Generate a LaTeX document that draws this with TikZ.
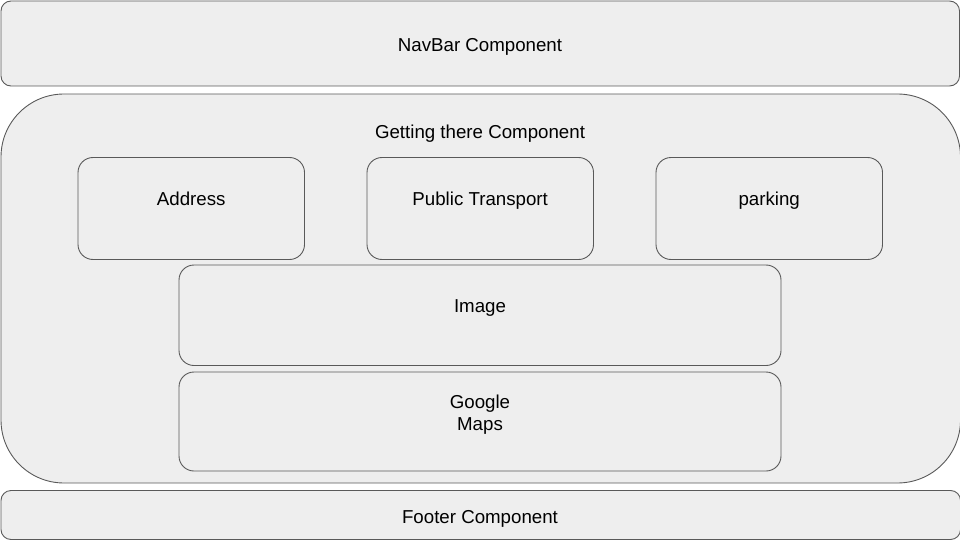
\documentclass[tikz,border=0pt]{standalone}
\usepackage{fontspec}
\setmainfont{Liberation Sans}
\definecolor{boxfill}{HTML}{EEEEEE}
\definecolor{boxline}{HTML}{595959}
\begin{document}
\begin{tikzpicture}[x=1pt,y=-1pt,
  comp/.style={draw=boxline,fill=boxfill,line width=0.9pt},
  lbl/.style={font=\fontsize{18.7}{22}\selectfont,align=center,text=black,inner sep=0pt,anchor=base}]
\useasboundingbox (0,0) rectangle (960,540);
% NavBar
\draw[comp,rounded corners=10] (1,1) rectangle (959.5,86);
\node[lbl] (nav) at (480,51.5) {NavBar Component};
% Getting there
\draw[comp,rounded corners=63] (1,94) rectangle (960.5,483);
\node[lbl] (gt) at (480,139) {Getting there Component};
% Row of boxes
\draw[comp,rounded corners=15] (78,157.5) rectangle (304.5,259.5);
\node[lbl] (addr) at (191.2,205) {Address};
\draw[comp,rounded corners=15] (367,157.5) rectangle (593.5,259.5);
\node[lbl] (pt) at (480.2,205) {Public Transport};
\draw[comp,rounded corners=15] (656,157.5) rectangle (882.5,259.5);
\node[lbl] (park) at (769.2,205) {parking};
% Image
\draw[comp,rounded corners=15] (179,265) rectangle (781,365.5);
\node[lbl] (img) at (480,312) {Image};
% Google Maps
\draw[comp,rounded corners=15] (179,372) rectangle (781,471);
\node[lbl] (gm) at (480,408) {Google};
\node[lbl] (gm2) at (480,430) {Maps};
% Footer
\draw[comp,rounded corners=10] (1,490.5) rectangle (960.5,539.5);
\node[lbl] (foot) at (480,523) {Footer Component};
\end{tikzpicture}
\end{document}
